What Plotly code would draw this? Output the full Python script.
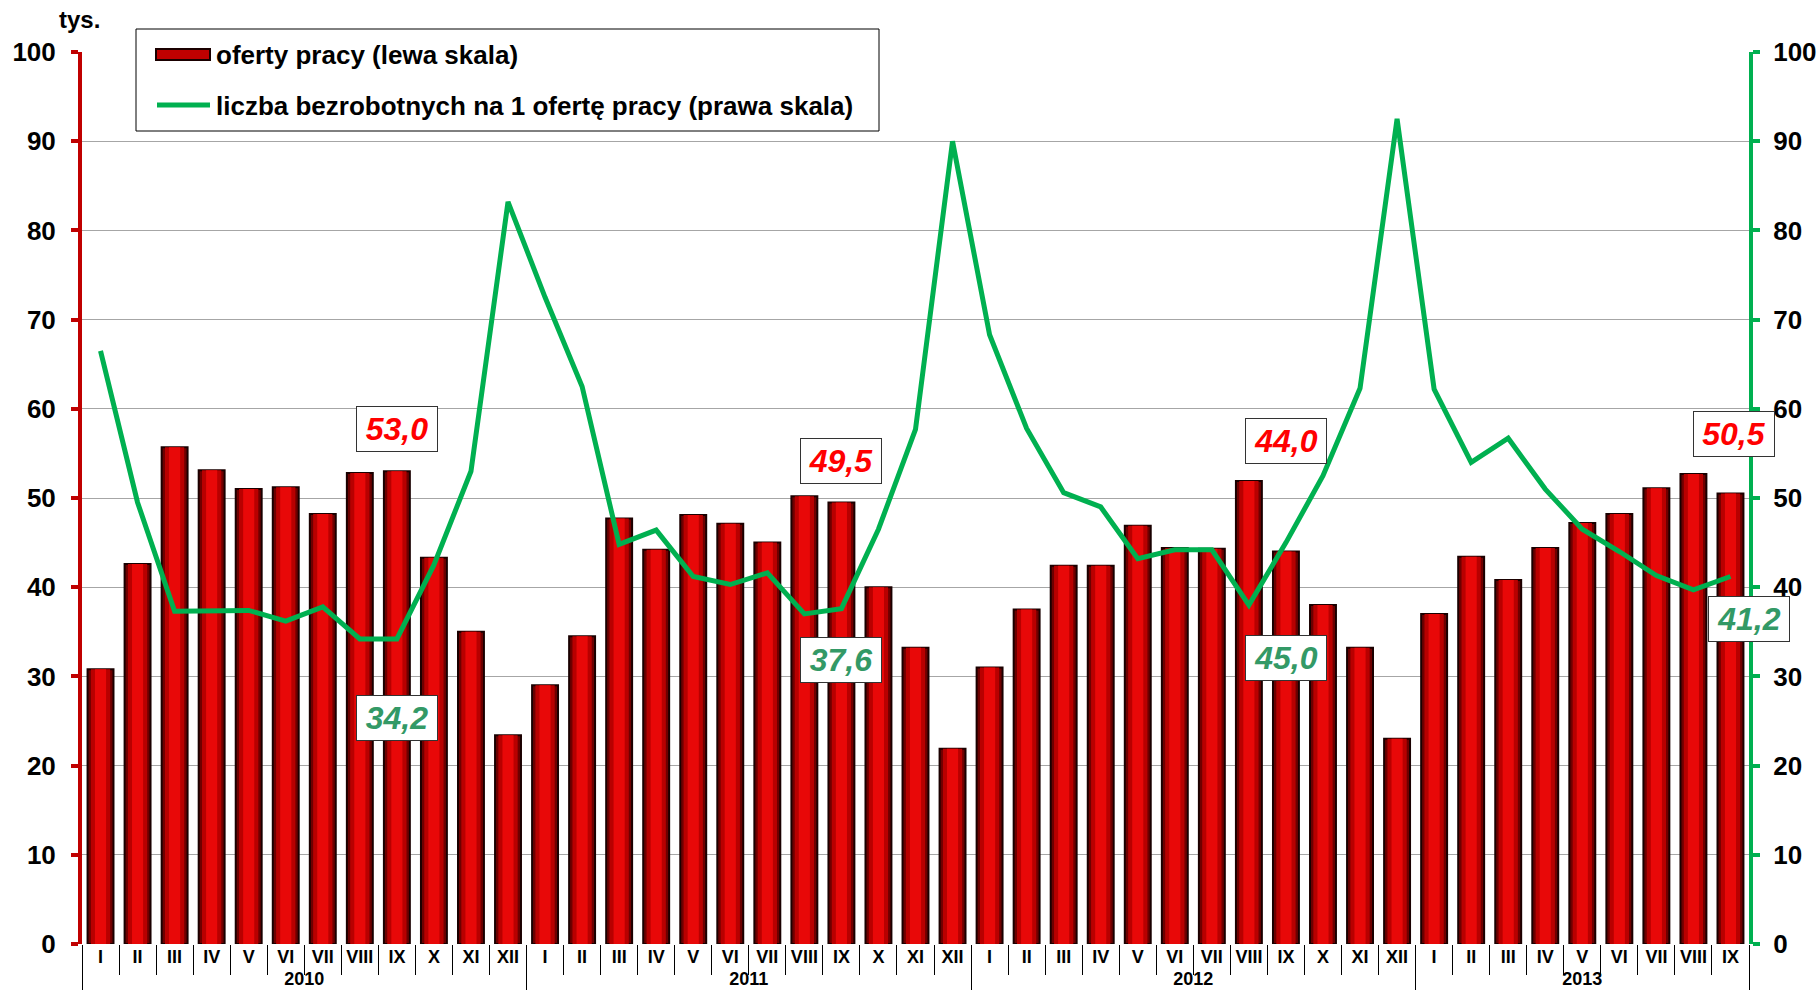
import plotly.graph_objects as go

# miesiące i lata (oś kategorii dwupoziomowa)
rzymskie = ["I", "II", "III", "IV", "V", "VI", "VII", "VIII", "IX", "X", "XI", "XII"]
lata = ["2010"] * 12 + ["2011"] * 12 + ["2012"] * 12 + ["2013"] * 9
miesiace = rzymskie * 3 + rzymskie[:9]

# oferty pracy w tys. (lewa skala)
oferty = [30.8, 42.6, 55.7, 53.1, 51.0, 51.2, 48.2, 52.8, 53.0, 43.3, 35.0, 23.4,
          29.0, 34.5, 47.7, 44.2, 48.1, 47.1, 45.0, 50.2, 49.5, 40.0, 33.2, 21.9,
          31.0, 37.5, 42.4, 42.4, 46.9, 44.4, 44.3, 51.9, 44.0, 38.0, 33.2, 23.0,
          37.0, 43.4, 40.8, 44.4, 47.2, 48.2, 51.1, 52.7, 50.5]

# liczba bezrobotnych na 1 ofertę pracy (prawa skala)
bezrobotni = [66.5, 49.5, 37.3, 37.3, 37.4, 36.2, 37.8, 34.2, 34.2, 42.5, 53.0, 83.2,
              72.5, 62.5, 44.8, 46.4, 41.2, 40.3, 41.6, 37.0, 37.6, 46.5, 57.7, 90.0,
              68.3, 57.8, 50.6, 49.0, 43.2, 44.2, 44.2, 38.0, 45.0, 52.5, 62.3, 92.5,
              62.2, 54.0, 56.7, 51.0, 46.5, 44.0, 41.3, 39.7, 41.2]

# etykiety wartości dla września każdego roku
wrzesien_idx = [8, 20, 32, 44]
etyk_oferty = ["53,0", "49,5", "44,0", "50,5"]
etyk_oferty_y = [57.7, 54.2, 56.4, 57.2]
etyk_oferty_dx = [0, 0, 0, 0.1]
etyk_bezr = ["34,2", "37,6", "45,0", "41,2"]
etyk_bezr_y = [25.3, 31.8, 32.1, 36.4]
etyk_bezr_dx = [0, 0, 0, 0.5]

CZERWONY = "#c00000"
ZIELONY = "#00b050"
FONT = "Liberation Sans"

# obszar wykresu w pikselach (do przeliczeń legendy)
L, R, T, B = 82, 1749, 52, 944
def px(x):
    return (x - L) / (R - L)
def py(y):
    return (B - y) / (B - T)

fig = go.Figure()
# słupki "walcowe": kilka nałożonych warstw dla efektu gradientu
fig.add_trace(go.Bar(x=[lata, miesiace], y=oferty, width=0.7, showlegend=False,
                     marker=dict(color="#6e0000", line=dict(color="#1a0000", width=2))))
fig.add_trace(go.Bar(x=[lata, miesiace], y=oferty, width=0.52, showlegend=False,
                     marker=dict(color="#b80000", line=dict(width=0))))
fig.add_trace(go.Bar(x=[lata, miesiace], y=oferty, width=0.3, showlegend=False,
                     marker=dict(color="#e80808", line=dict(width=0))))
fig.add_trace(go.Scatter(
    x=[lata, miesiace], y=bezrobotni, yaxis="y2", mode="lines", showlegend=False,
    line=dict(color=ZIELONY, width=5),
))

for i, t, yy, dx in zip(wrzesien_idx, etyk_oferty, etyk_oferty_y, etyk_oferty_dx):
    fig.add_annotation(x=i + dx, y=yy, xref="x", yref="y", text="<b><i>" + t + "</i></b>",
                       showarrow=False, font=dict(family=FONT, size=32, color="#ff0000"),
                       bgcolor="white", bordercolor="#333333", borderwidth=1,
                       width=78, height=42, borderpad=1)
for i, t, yy, dx in zip(wrzesien_idx, etyk_bezr, etyk_bezr_y, etyk_bezr_dx):
    fig.add_annotation(x=i + dx, y=yy, xref="x", yref="y", text="<b><i>" + t + "</i></b>",
                       showarrow=False, font=dict(family=FONT, size=32, color="#339966"),
                       bgcolor="white", bordercolor="#333333", borderwidth=1,
                       width=78, height=42, borderpad=1)

# jednostka osi
fig.add_annotation(x=px(79), y=py(20), xref="paper", yref="paper", xanchor="center", yanchor="middle",
                   text="<b>tys.</b>", showarrow=False, font=dict(family=FONT, size=24, color="black"))

# legenda rysowana ręcznie
fig.add_shape(type="rect", xref="paper", yref="paper",
              x0=px(136), x1=px(879), y0=py(131), y1=py(29),
              line=dict(color="black", width=1), fillcolor="white", layer="above")
fig.add_shape(type="rect", xref="paper", yref="paper",
              x0=px(156), x1=px(210), y0=py(60), y1=py(49),
              line=dict(color="#1a0000", width=2), fillcolor="#c00000", layer="above")
fig.add_shape(type="line", xref="paper", yref="paper",
              x0=px(157), x1=px(210), y0=py(105), y1=py(105),
              line=dict(color=ZIELONY, width=5), layer="above")
fig.add_annotation(x=px(214), y=py(55), xref="paper", yref="paper", xanchor="left", yanchor="middle",
                   text="<b>oferty pracy (lewa skala)</b>", showarrow=False,
                   font=dict(family=FONT, size=26, color="black"))
fig.add_annotation(x=px(214), y=py(106), xref="paper", yref="paper", xanchor="left", yanchor="middle",
                   text="<b>liczba bezrobotnych na 1 ofertę pracy (prawa skala)</b>", showarrow=False,
                   font=dict(family=FONT, size=26, color="black"))

fig.update_layout(
    width=1820, height=993,
    margin=dict(l=L, r=1820 - R, t=T, b=993 - B),
    plot_bgcolor="white", paper_bgcolor="white",
    font=dict(family=FONT, color="black"),
    barmode="overlay",
    showlegend=False,
    xaxis=dict(
        type="multicategory", showgrid=False, automargin=False, tickangle=0,
        range=[-0.5, len(oferty) - 0.5],
        tickfont=dict(family=FONT, size=18, color="black", weight="bold"),
        ticks="outside", tickson="boundaries", ticklen=30, tickcolor="black", tickwidth=1,
        showdividers=True, dividercolor="black", dividerwidth=1,
        showline=False,
    ),
    yaxis=dict(
        range=[0, 100], dtick=10, showgrid=True, gridcolor="#a6a6a6", gridwidth=1,
        showline=True, linecolor=CZERWONY, linewidth=4, automargin=False,
        ticks="outside", ticklen=7, tickwidth=4, tickcolor=CZERWONY,
        tickfont=dict(family=FONT, size=26, color="black", weight="bold"),
        ticklabelstandoff=10, zeroline=False,
    ),
    yaxis2=dict(
        range=[0, 100], dtick=10, overlaying="y", side="right", showgrid=False,
        showline=True, linecolor=ZIELONY, linewidth=4, automargin=False,
        ticks="outside", ticklen=7, tickwidth=4, tickcolor=ZIELONY,
        tickfont=dict(family=FONT, size=26, color="black", weight="bold"),
        ticklabelstandoff=8, zeroline=False,
    ),
)

fig.write_html("out.html", config={"displayModeBar": False},
               post_script="document.body.style.margin='0';")
